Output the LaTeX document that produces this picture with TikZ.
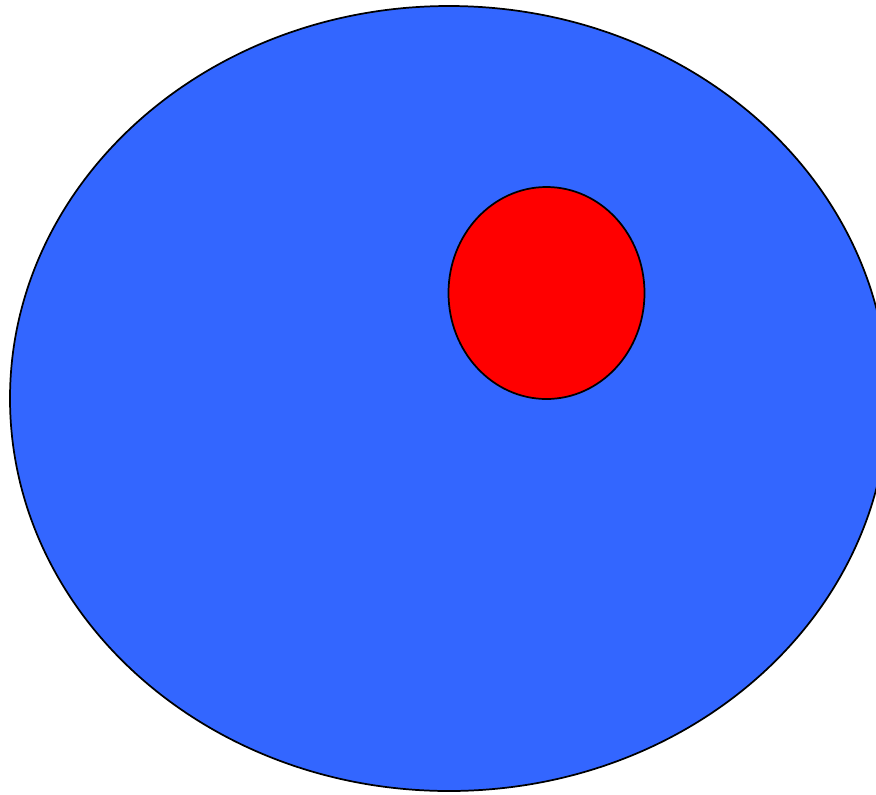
\documentclass[tikz,border=0pt]{standalone}
\usepackage{tikz}
\usetikzlibrary{shapes.geometric}
\usepackage{xcolor}
\definecolor{bigblue}{RGB}{51,102,255}
\definecolor{dotred}{RGB}{255,0,0}

\begin{document}
\begin{tikzpicture}[
    x=0.75pt, y=-0.75pt,
    blob/.style={ellipse, draw=black, line width=1.3pt, inner sep=0pt}
]
    \useasboundingbox (0,0) rectangle (876,794);
    \node[blob, fill=bigblue, minimum width=878*0.75pt, minimum height=785*0.75pt] (outer) at (449,398.5) {};
    \node[blob, fill=dotred, minimum width=196*0.75pt, minimum height=212*0.75pt] (inner) at (546.5,293) {};
\end{tikzpicture}
\end{document}
